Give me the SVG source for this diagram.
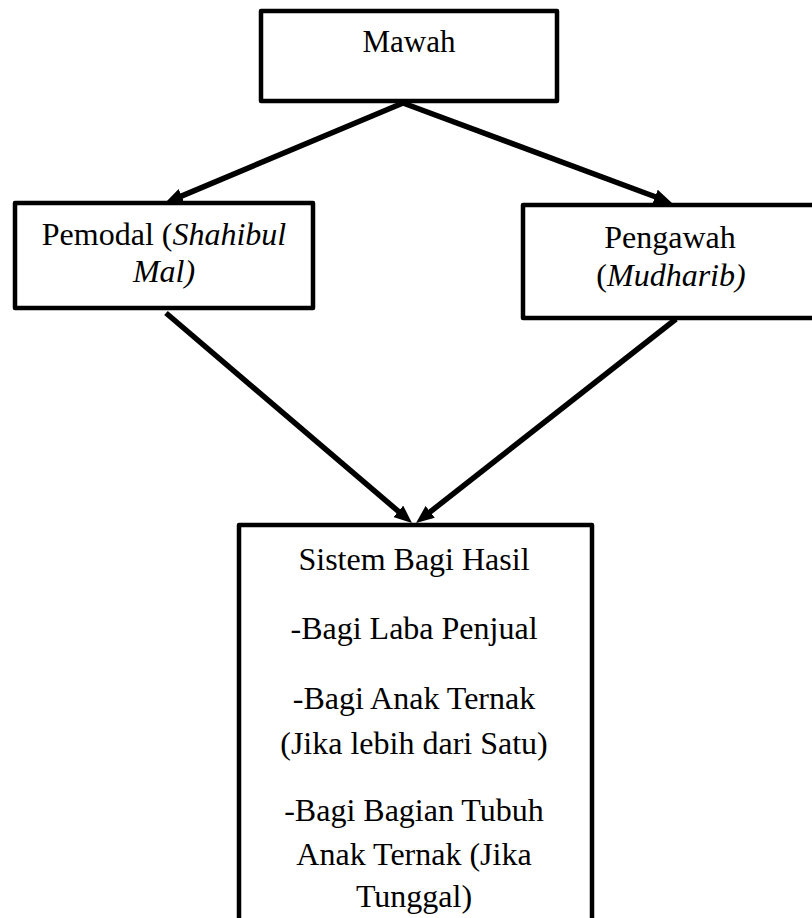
<svg xmlns="http://www.w3.org/2000/svg" width="812" height="918" viewBox="0 0 812 918">
<style>
.box{fill:#fff;stroke:#000;stroke-width:4.5;stroke-linejoin:round}
.t{font-family:"Liberation Serif","Times New Roman",serif;font-size:32px;fill:#000;text-anchor:middle}
.i{font-style:italic}
.c{fill:none;stroke:#000;stroke-width:5.5;marker-end:url(#ah)}
</style>
<defs>
<marker id="ah" viewBox="0 0 18 15" refX="8" refY="7.5" markerWidth="18" markerHeight="15" markerUnits="userSpaceOnUse" orient="auto">
<path d="M0,0 L18,7.5 L0,15 z" fill="#000"/>
</marker>
</defs>
<rect width="812" height="918" fill="#fff"/>
<g id="connectors">
<line class="c" x1="403" y1="103" x2="174.2" y2="199.1"/>
<line class="c" x1="403" y1="103" x2="662.6" y2="199.5"/>
<line class="c" x1="166" y1="313" x2="404.4" y2="516.5"/>
<line class="c" x1="676" y1="319" x2="423.9" y2="516.8"/>
</g>
<g id="mawah">
<rect class="box" x="261" y="11" width="296" height="90"/>
<text class="t" x="409" y="52" style="font-size:31px">Mawah</text>
</g>
<g id="pemodal">
<rect class="box" x="15" y="203" width="298" height="105"/>
<text class="t" x="164" y="245">Pemodal (<tspan class="i">Shahibul</tspan></text>
<text class="t i" x="164" y="282">Mal)</text>
</g>
<g id="pengawah">
<rect class="box" x="523" y="205" width="296" height="113"/>
<text class="t" x="670" y="248">Pengawah</text>
<text class="t" x="671" y="286">(<tspan class="i">Mudharib)</tspan></text>
</g>
<g id="sistem">
<rect class="box" x="239" y="525" width="353" height="410"/>
<text class="t" x="414" y="570">Sistem Bagi Hasil</text>
<text class="t" x="414" y="639">-Bagi Laba Penjual</text>
<text class="t" x="414" y="709">-Bagi Anak Ternak</text>
<text class="t" x="414" y="754">(Jika lebih dari Satu)</text>
<text class="t" x="414" y="821">-Bagi Bagian Tubuh</text>
<text class="t" x="414" y="865">Anak Ternak (Jika</text>
<text class="t" x="414" y="907">Tunggal)</text>
</g>
</svg>
